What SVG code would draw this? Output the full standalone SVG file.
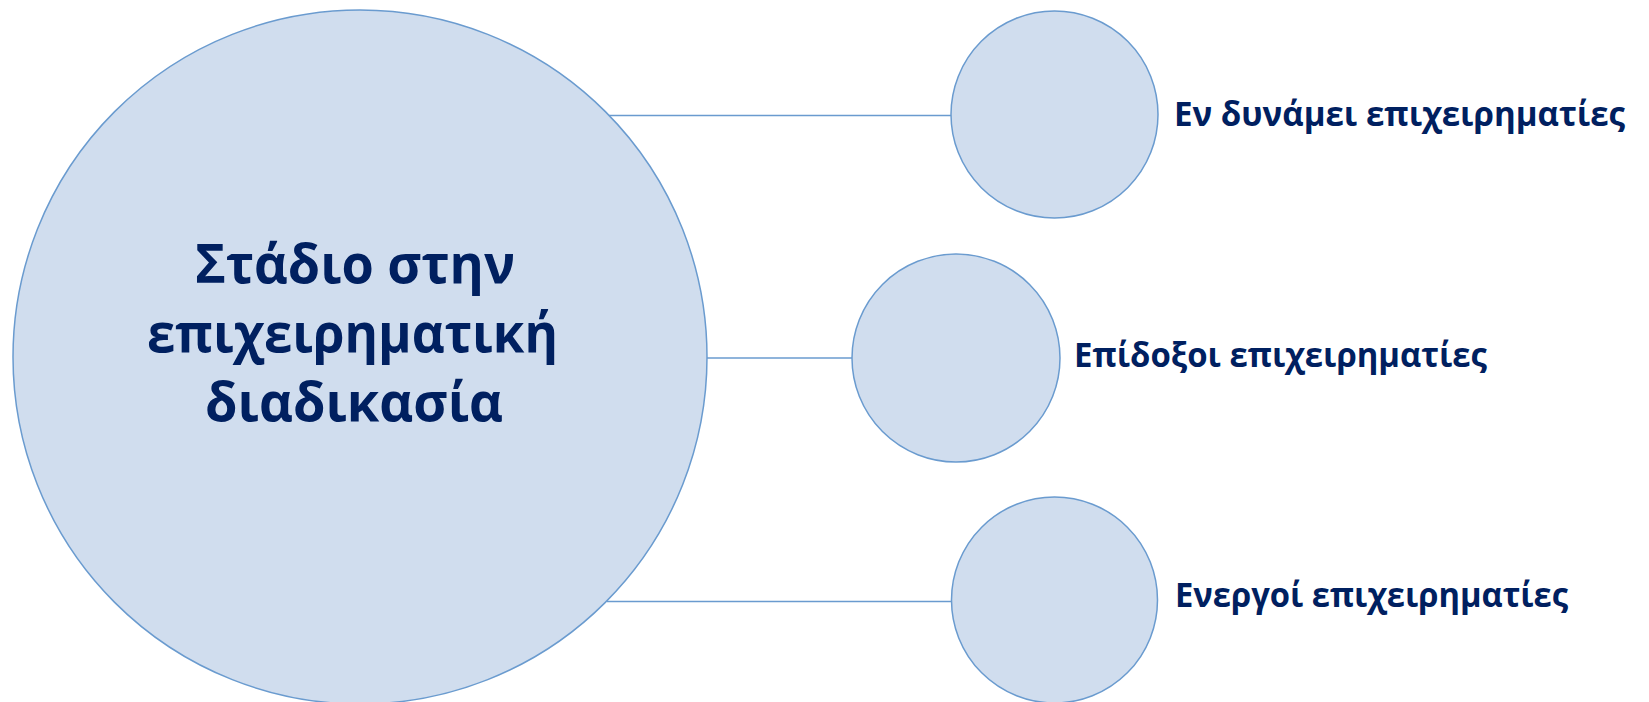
<svg xmlns="http://www.w3.org/2000/svg" width="1649" height="702" viewBox="0 0 1649 702">
  <style>
    .node { fill: #D0DDEE; stroke: #6A9BCF; stroke-width: 1.5; }
    .conn { stroke: #6A9BCF; stroke-width: 1.5; fill: none; }
    .main { font-family: "Open Sans", "Noto Sans", "DejaVu Sans", sans-serif; font-weight: bold; font-size: 54px; fill: #002060; }
    .lbl { font-family: "Open Sans", "Noto Sans", "DejaVu Sans", sans-serif; font-weight: bold; font-size: 34px; fill: #002060; }
  </style>
  <rect width="1649" height="702" fill="#FFFFFF"/>
  <g id="connectors">
    <line class="conn" x1="609" y1="115.5" x2="952" y2="115.5"/>
    <line class="conn" x1="707" y1="358" x2="852" y2="358"/>
    <line class="conn" x1="607" y1="601.5" x2="952" y2="601.5"/>
  </g>
  <g id="stage">
    <circle class="node" cx="360" cy="357" r="347"/>
    <text class="main" x="195" y="283" textLength="320" lengthAdjust="spacingAndGlyphs">Στάδιο στην</text>
    <text class="main" x="147" y="352" textLength="411" lengthAdjust="spacingAndGlyphs">επιχειρηματική</text>
    <text class="main" x="205" y="421" textLength="298" lengthAdjust="spacingAndGlyphs">διαδικασία</text>
  </g>
  <g id="potential">
    <circle class="node" cx="1054.5" cy="114.5" r="103.5"/>
    <text class="lbl" x="1174" y="126" textLength="451" lengthAdjust="spacingAndGlyphs">Εν δυνάμει επιχειρηματίες</text>
  </g>
  <g id="aspiring">
    <circle class="node" cx="956" cy="358" r="104"/>
    <text class="lbl" x="1074" y="367" textLength="413" lengthAdjust="spacingAndGlyphs">Επίδοξοι επιχειρηματίες</text>
  </g>
  <g id="active">
    <circle class="node" cx="1054.5" cy="600" r="103"/>
    <text class="lbl" x="1175" y="607" textLength="393" lengthAdjust="spacingAndGlyphs">Ενεργοί επιχειρηματίες</text>
  </g>
</svg>
